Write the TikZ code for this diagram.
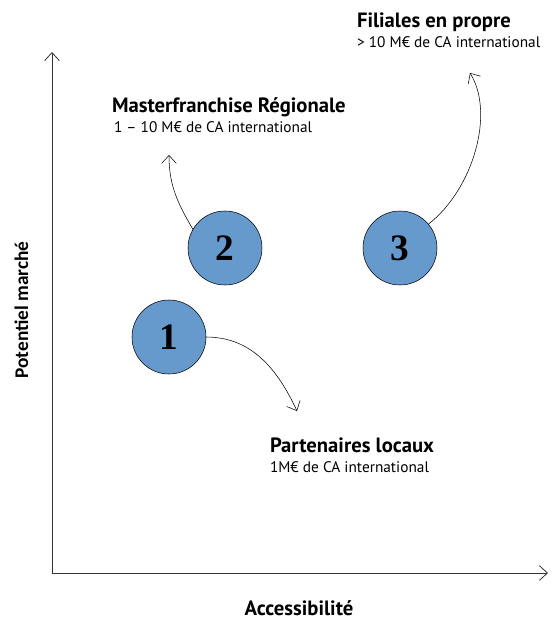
\documentclass[tikz,border=0pt]{standalone}
\usepackage{fontspec}
\setmainfont{PT Sans}
\newfontfamily\numfont{Liberation Serif}
\newfontfamily\axisfont{Carlito}
\usepackage{tikz}
\usetikzlibrary{positioning, arrows.meta}
\definecolor{StepBlue}{HTML}{6699CC}

\begin{document}
\begin{tikzpicture}[x=0.75pt, y=-0.75pt, every node/.style={inner sep=0pt, outer sep=0pt},
  >={Straight Barb[length=6pt, width=11pt]},
  stepdot/.style={circle, draw=black, fill=StepBlue, minimum size=74pt*0.75, font=\numfont\bfseries\fontsize{28}{28}\selectfont},
  headtxt/.style={anchor=base west, font=\bfseries\fontsize{15.5}{15.5}\selectfont},
  subtxt/.style={anchor=base west, font=\fontsize{11.5}{11.5}\selectfont}]
  \useasboundingbox (0,0) rectangle (553,621);
  % axes
  \coordinate (origin) at (52,573);
  \coordinate (ymax) at (52,52);
  \coordinate (xmax) at (548,573);
  \draw[->, semithick, black!80] (origin) -- (ymax);
  \draw[->, semithick, black!80] (origin) -- (xmax);
  \node[anchor=base, font=\bfseries\fontsize{15.5}{15.5}\selectfont] (xlab) at (299,615) {Accessibilit\'e};
  \node[anchor=base, rotate=90, font=\axisfont\bfseries\fontsize{14.5}{14.5}\selectfont] (ylab) at (28,310) {Potentiel march\'e};
  % steps
  \node[stepdot] (c1) at (169,337) {1};
  \node[stepdot] (c2) at (225,248) {2};
  \node[stepdot] (c3) at (400,248) {3};
  \node[headtxt] (t1) at (270,452) {Partenaires locaux};
  \node[subtxt] (s1) at (270,472) {1M€ de CA international};
  \node[headtxt] (t2) at (112,112) {Masterfranchise R\'egionale};
  \node[subtxt] (s2) at (114,132) {1 -- 10 M€ de CA international};
  \node[headtxt] (t3) at (357,27) {Filiales en propre};
  \node[subtxt] (s3) at (357,47) {> 10 M€ de CA international};
  \coordinate (e1) at (297,411);
  \coordinate (e2) at (169,155);
  \coordinate (e3) at (470,73);
  \draw[->] (c1.east) to[out=0, in=115] (e1);
  \draw[->] (c2.150) to[out=120, in=-90] (e2);
  \draw[->] (c3.40) .. controls +(45,-35) and +(25,40) .. (e3);
\end{tikzpicture}
\end{document}
